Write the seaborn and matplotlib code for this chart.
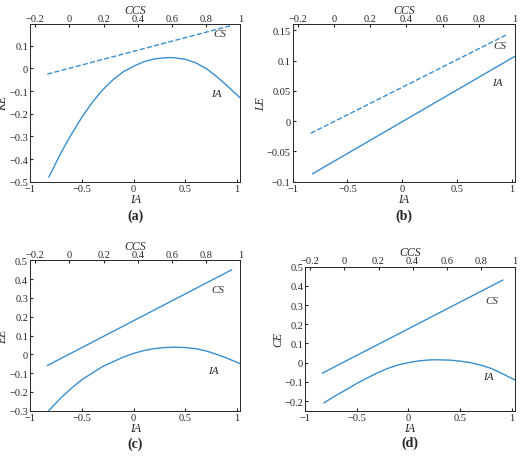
import matplotlib
matplotlib.use("Agg")
import matplotlib.pyplot as plt
import seaborn as sns
import pandas as pd

sns.set_style("ticks")
plt.rcParams['font.family'] = ['Liberation Serif', 'DejaVu Serif']

# (a) KE
a_ia_x = [-0.82, -0.7, -0.6, -0.5, -0.4, -0.3, -0.2, -0.1, 0.0, 0.1, 0.2, 0.3, 0.35, 0.4, 0.5, 0.6, 0.7, 0.8, 0.9, 1.03]
a_ia_y = [-0.48, -0.37, -0.29, -0.215, -0.15, -0.095, -0.05, -0.015, 0.01, 0.03, 0.042, 0.047, 0.048, 0.047, 0.04, 0.025, 0.0, -0.035, -0.075, -0.13]
a_cs_x = [-0.13, 0.95]
a_cs_y = [-0.025, 0.19]
# (b) LE
b_ia_x = [-0.82, 1.03]
b_ia_y = [-0.087, 0.107]
b_cs_x = [-0.13, 0.95]
b_cs_y = [-0.02, 0.142]
# (c) EE
c_ia_x = [-0.82, -0.7, -0.6, -0.5, -0.4, -0.3, -0.2, -0.1, 0.0, 0.1, 0.2, 0.3, 0.4, 0.5, 0.6, 0.7, 0.8, 0.9, 1.03]
c_ia_y = [-0.30, -0.23, -0.18, -0.135, -0.10, -0.065, -0.04, -0.015, 0.005, 0.02, 0.03, 0.036, 0.038, 0.036, 0.03, 0.018, 0.0, -0.02, -0.05]
c_cs_x = [-0.13, 0.95]
c_cs_y = [-0.06, 0.45]
# (d) CE
d_ia_x = [-0.82, -0.7, -0.6, -0.5, -0.4, -0.3, -0.2, -0.1, 0.0, 0.1, 0.2, 0.27, 0.4, 0.5, 0.6, 0.7, 0.8, 0.9, 1.03]
d_ia_y = [-0.21, -0.17, -0.14, -0.108, -0.08, -0.053, -0.03, -0.012, 0.0, 0.009, 0.014, 0.015, 0.013, 0.008, 0.0, -0.013, -0.03, -0.055, -0.09]
d_cs_x = [-0.13, 0.93]
d_cs_y = [-0.055, 0.43]

panels = [
    dict(lab="(a)", yl="KE", ia=(a_ia_x, a_ia_y), cs=(a_cs_x, a_cs_y), dash=True,
         ylim=(-0.5, 0.195), yt=[-0.5,-0.4,-0.3,-0.2,-0.1,0,0.1], pos=[0.058, 0.617, 0.404, 0.33],
         cst=(0.84, 0.145), iat=(0.75, -0.12)),
    dict(lab="(b)", yl="LE", ia=(b_ia_x, b_ia_y), cs=(b_cs_x, b_cs_y), dash=True,
         ylim=(-0.1, 0.16), yt=[-0.1,-0.05,0,0.05,0.1,0.15], pos=[0.563, 0.617, 0.427, 0.33],
         cst=(0.88, 0.12), iat=(0.82, 0.06)),
    dict(lab="(c)", yl="EE", ia=(c_ia_x, c_ia_y), cs=(c_cs_x, c_cs_y), dash=False,
         ylim=(-0.3, 0.5), yt=[-0.3,-0.2,-0.1,0,0.1,0.2,0.3,0.4,0.5], pos=[0.058, 0.137, 0.404, 0.315],
         cst=(0.83, 0.33), iat=(0.72, -0.1)),
    dict(lab="(d)", yl="CE", ia=(d_ia_x, d_ia_y), cs=(d_cs_x, d_cs_y), dash=False,
         ylim=(-0.25, 0.5), yt=[-0.2,-0.1,0,0.1,0.2,0.3,0.4,0.5], pos=[0.587, 0.137, 0.403, 0.302],
         cst=(0.83, 0.31), iat=(0.72, -0.085)),
]

color = "#3a8fd0"
fs = 7.5
fig = plt.figure(figsize=(5.2, 4.77), dpi=100)
for p in panels:
    ax = fig.add_axes(p["pos"])
    df = pd.DataFrame({"x": p["ia"][0], "y": p["ia"][1]})
    sns.lineplot(data=df, x="x", y="y", ax=ax, color=color, lw=1.0)
    ax.set_xlim(-1, 1.03)
    ax.set_ylim(*p["ylim"])
    ax.set_yticks(p["yt"])
    ax.set_yticklabels([("%g" % v).replace("-", "\u2212") for v in p["yt"]])
    ax.set_xticks([-1, -0.5, 0, 0.5, 1])
    ax.set_xticklabels(["\u22121", "\u22120.5", "0", "0.5", "1"])
    ax.set_xlabel("IA", style="italic", fontsize=8.5, labelpad=0)
    ax.set_ylabel(p["yl"], style="italic", fontsize=8.5, labelpad=0)
    ax.tick_params(labelsize=fs, direction="in", length=2, pad=1.5)
    ax2 = ax.twiny()
    dfc = pd.DataFrame({"x": p["cs"][0], "y": p["cs"][1]})
    sns.lineplot(data=dfc, x="x", y="y", ax=ax2, color=color, lw=1.0,
                 linestyle="--" if p["dash"] else "-")
    ax2.set_xlim(-0.23, 1.0)
    ax2.set_ylim(*p["ylim"])
    ax2.set_xticks([-0.2, 0, 0.2, 0.4, 0.6, 0.8, 1])
    ax2.set_xticklabels(["\u22120.2", "0", "0.2", "0.4", "0.6", "0.8", "1"])
    ax2.set_xlabel("CCS", style="italic", fontsize=8.5, labelpad=1)
    ax2.set_ylabel("")
    ax2.tick_params(labelsize=fs, direction="in", length=2, pad=1)
    ax2.text(*p["cst"], "CS", style="italic", fontsize=8, transform=ax2.transData)
    ax.text(*p["iat"], "IA", style="italic", fontsize=8)
    ax.text(0.5, -0.17, p["lab"], transform=ax.transAxes, ha="center", va="top",
            fontsize=10, fontweight="bold")
    for s in list(ax.spines.values()) + list(ax2.spines.values()):
        s.set_linewidth(0.6)

fig.savefig("out.png", dpi=100)
